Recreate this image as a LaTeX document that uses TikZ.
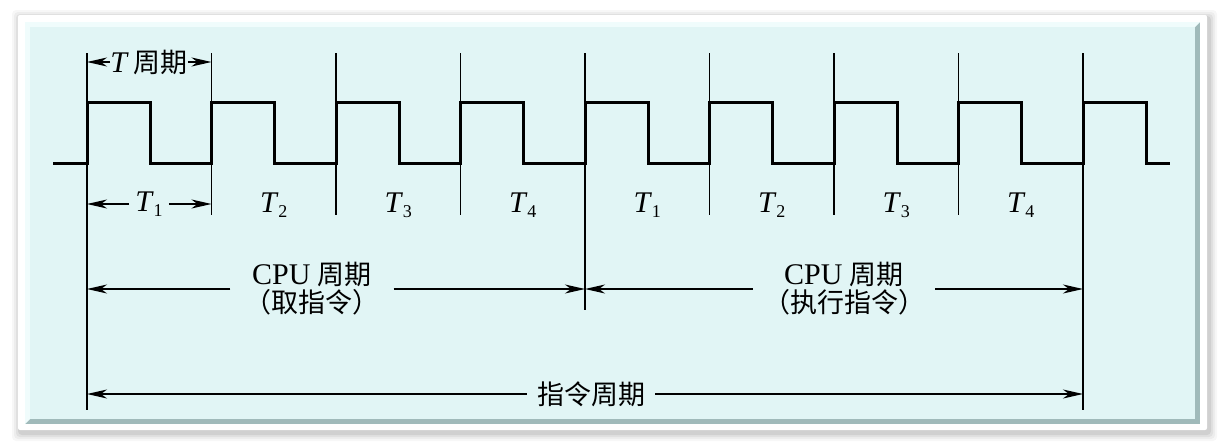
\documentclass[tikz,border=0pt]{standalone}
\usepackage{fontspec}
\setmainfont{Liberation Serif}
\newfontfamily\cjk{Noto Sans CJK SC}[Scale=0.9]
\usetikzlibrary{arrows.meta}
\definecolor{panelfill}{RGB}{225,245,245}
\definecolor{bevelcol}{RGB}{160,186,186}
\definecolor{bevellight}{RGB}{240,252,252}
\newcommand{\Tsub}[1]{\textit{T}\raisebox{-5pt}{\fontsize{18}{18}\selectfont #1}}
\begin{document}
\begin{tikzpicture}[x=1pt,y=-1pt,
  wave/.style={line width=3pt, line join=miter},
  guide/.style={line width=1.4pt},
  dim/.style={line width=1.4pt, -{Stealth[length=20pt,width=9pt,inset=6pt]}},
  lbl/.style={font=\fontsize{30}{30}\selectfont, inner sep=0pt},
  span/.style={lbl, align=center, inner xsep=12pt}]
\useasboundingbox (0,0) rectangle (1220,447);
\fill[white] (0,0) rectangle (1220,447);
% drop shadow
\foreach \d/\o in {8/0.03,6/0.04,4/0.05,2/0.07}
  \fill[black, opacity=\o, rounded corners=4pt] (18-\d+2,15-\d+3) rectangle (1207+\d+2,430+\d+3);
\fill[white, rounded corners=2pt] (18,15) rectangle (1207,430);
% bevelled panel
\fill[bevelcol] (25,22) rectangle (1200,424);
\fill[bevellight] (25,22) -- (1200,22) -- (1195,27) -- (30,27) -- (30,419) -- (25,424) -- cycle;
\fill[panelfill] (30,27) rectangle (1195,419);

% reference coordinates for the rising edges
\foreach \i in {0,...,8}
  \coordinate (r\i) at ({87+124.5*\i},53);

% clock waveform
\draw[wave] (53,163) foreach \i in {0,...,8} {
  -- ({87+124.5*\i},163) -- ({87+124.5*\i},102) -- ({150+124.5*\i},102) -- ({150+124.5*\i},163) }
  -- (1170,163);

% vertical guide lines
\draw[guide] (r0) -- (r0 |- 0,410);
\draw[guide] (r8) -- (r8 |- 0,410);
\draw[guide] (r4) -- (r4 |- 0,310);
\foreach \i in {1,2,3,5,6,7}
  \draw[guide] (r\i) -- (r\i |- 0,215);

% T period
\node[lbl] (tp) at (149,62) {\textit{T}\,{\cjk 周期}};
\draw[dim] (tp.west) -- (tp.west -| r0);
\draw[dim] (tp.east) -- (tp.east -| r1);

% T1 with arrows
\node[lbl, inner xsep=6pt] (t1) at (149,204) {\Tsub{1}};
\draw[dim] (t1.west) -- (t1.west -| r0);
\draw[dim] (t1.east) -- (t1.east -| r1);

% state labels
\node[lbl] (t2) at (273.75,205) {\Tsub{2}};
\node[lbl] (t3) at (398.25,205) {\Tsub{3}};
\node[lbl] (t4) at (522.75,205) {\Tsub{4}};
\node[lbl] (u1) at (647.25,205) {\Tsub{1}};
\node[lbl] (u2) at (771.75,205) {\Tsub{2}};
\node[lbl] (u3) at (896.25,205) {\Tsub{3}};
\node[lbl] (u4) at (1020.75,205) {\Tsub{4}};

% CPU cycles
\node[span, inner xsep=14pt] (c1) at (312,289) {CPU {\cjk 周期}\\[-2pt]{\cjk （取指令）}};
\draw[dim] (c1.west) -- (c1.west -| r0);
\draw[dim] (c1.east) -- (c1.east -| r4);
\node[span, inner xsep=10pt] (c2) at (844,289) {CPU {\cjk 周期}\\[-2pt]{\cjk （执行指令）}};
\draw[dim] (c2.west) -- (c2.west -| r4);
\draw[dim] (c2.east) -- (c2.east -| r8);

% instruction cycle
\node[lbl, inner xsep=10pt] (ic) at (591,394) {\cjk 指令周期};
\draw[dim] (ic.west) -- (ic.west -| r0);
\draw[dim] (ic.east) -- (ic.east -| r8);
\end{tikzpicture}
\end{document}
